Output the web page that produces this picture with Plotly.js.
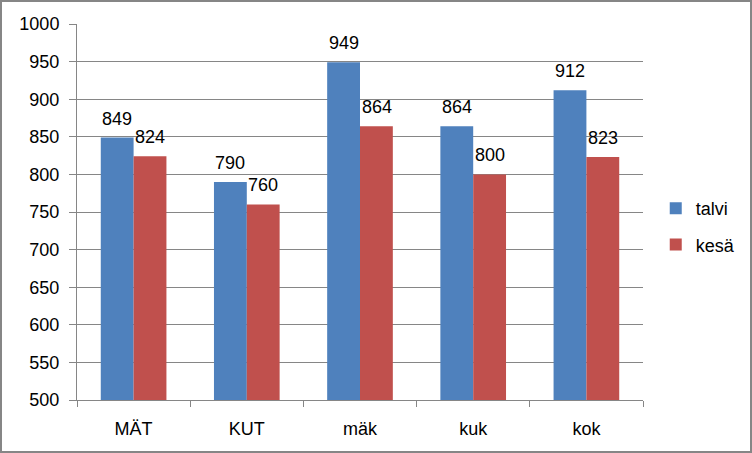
<!DOCTYPE html>
<html><head><meta charset="utf-8">
<script src="https://cdn.plot.ly/plotly-3.0.1.min.js"></script>
<style>
html,body{margin:0;padding:0;background:#fff;}
#wrap{position:relative;width:752px;height:453px;}
#chart{width:752px;height:453px;}
#frame{position:absolute;left:0;top:0;width:752px;height:453px;box-sizing:border-box;border:2px solid #868686;pointer-events:none;}
</style></head>
<body>
<div id="wrap"><div id="chart"></div><div id="frame"></div></div>
<script>
const categories = ["MÄT", "KUT", "mäk", "kuk", "kok"];
const talvi = [849, 790, 949, 864, 912];
const kesa = [824, 760, 864, 800, 823];
const seriesNames = ["talvi", "kesä"];

const font = {family: "Liberation Sans, Arial, sans-serif", size: 18, color: "#000"};
const traces = [
  {type: "bar", name: seriesNames[0], x: categories, y: talvi, marker: {color: "#4f81bd"}, legendgroup: "a"},
  {type: "bar", name: seriesNames[1], x: categories, y: kesa, marker: {color: "#c0504d"}, legendgroup: "b"}
];
const annotations = [];
categories.forEach((c, i) => {
  annotations.push({x: c, y: talvi[i], text: String(talvi[i]), showarrow: false, xanchor: "center", yanchor: "bottom", xshift: -16.5, yshift: 7, font: font});
  annotations.push({x: c, y: kesa[i], text: String(kesa[i]), showarrow: false, xanchor: "center", yanchor: "bottom", xshift: 16.5, yshift: 7, font: font});
});
const layout = {
  width: 752, height: 453,
  margin: {l: 77, r: 109, t: 24, b: 53, autoexpand: false},
  paper_bgcolor: "#fff", plot_bgcolor: "#fff",
  font: font,
  barmode: "group", bargap: 0.42, bargroupgap: 0,
  showlegend: true,
  annotations: annotations,
  legend: {xref: "container", yref: "container", x: 0.872, xanchor: "left", y: 0.5, yanchor: "middle", font: font, tracegroupgap: 10, traceorder: "grouped"},
  xaxis: {type: "category", showline: true, linecolor: "#868686", linewidth: 1, ticks: "outside", tickson: "boundaries",
          ticklen: 6, tickcolor: "#868686", showgrid: false, tickfont: font, ticklabelstandoff: 12, automargin: false},
  yaxis: {range: [500, 1000], dtick: 50, showline: true, linecolor: "#868686", linewidth: 1, ticks: "outside",
          ticklen: 7, tickcolor: "#868686", gridcolor: "#868686", gridwidth: 1, zeroline: false, tickfont: font,
          ticklabelstandoff: 6, automargin: false}
};
Plotly.newPlot("chart", traces, layout, {displayModeBar: false, staticPlot: true});
</script>
</body></html>
